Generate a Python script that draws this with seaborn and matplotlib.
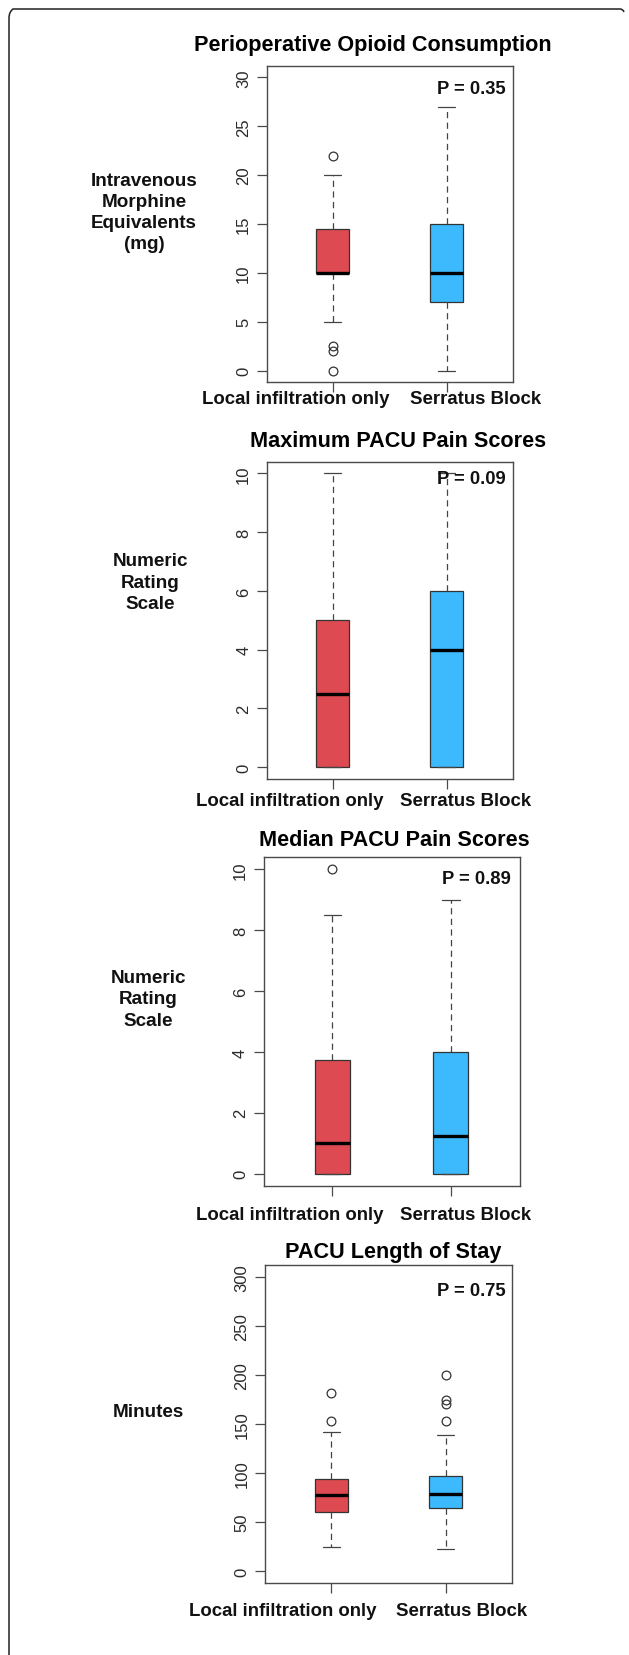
import numpy as np
import matplotlib
matplotlib.use("Agg")
import matplotlib.pyplot as plt
import seaborn as sns
from matplotlib.path import Path
from matplotlib.patches import PathPatch

# ---------------- data ----------------
groups = ["Local infiltration only", "Serratus Block"]
titles = ["Perioperative Opioid Consumption", "Maximum PACU Pain Scores",
          "Median PACU Pain Scores", "PACU Length of Stay"]
ylabels = ["Intravenous\nMorphine\nEquivalents\n(mg)", "Numeric\nRating\nScale",
           "Numeric\nRating\nScale", "Minutes"]
p_values = ["P = 0.35", "P = 0.09", "P = 0.89", "P = 0.75"]
y_max = [30, 10, 10, 300]
y_step = [5, 2, 2, 50]

# five-number summaries per panel: [whisker low, Q1, median, Q3, whisker high]
opioid_local = [5, 10, 10, 14.5, 20]
opioid_serratus = [0, 7, 10, 15, 27]
maxpain_local = [0, 0, 2.5, 5, 10]
maxpain_serratus = [0, 0, 4, 6, 10]
medpain_local = [0, 0, 1, 3.75, 8.5]
medpain_serratus = [0, 0, 1.25, 4, 9]
los_local = [25, 60, 78, 94, 142]
los_serratus = [23, 64, 79, 97, 139]

# outliers
opioid_local_out = [22, 2.5, 2, 0]
opioid_serratus_out = []
maxpain_local_out = []
maxpain_serratus_out = []
medpain_local_out = [10]
medpain_serratus_out = []
los_local_out = [182, 153]
los_serratus_out = [200, 174, 170, 153]

summaries = [(opioid_local, opioid_serratus), (maxpain_local, maxpain_serratus),
             (medpain_local, medpain_serratus), (los_local, los_serratus)]
outliers = [(opioid_local_out, opioid_serratus_out), (maxpain_local_out, maxpain_serratus_out),
            (medpain_local_out, medpain_serratus_out), (los_local_out, los_serratus_out)]

# ---------------- style ----------------
sns.set_style("white")
plt.rcParams['font.family'] = ['Liberation Sans', 'DejaVu Sans']

W, H = 629, 1656
fig = plt.figure(figsize=(W / 100, H / 100), dpi=100)

box_colors = ["#DE4A51", "#3DBAFD"]
frame_col = "#4a4a4a"

# layout in pixels (left, top, right, bottom)
axes_px = [(266.7, 66.7, 512.6, 383.3),
           (266.7, 462.7, 512.6, 780.0),
           (263.5, 858.3, 519.5, 1186.7),
           (265.0, 1266.0, 512.0, 1584.0)]
title_px = [(373, 45), (398, 441.7), (394, 840.7), (393.5, 1252.7)]
ylab_px = [(144, 213), (150, 583), (148, 1000), (148, 1413)]
p_px = [(506, 89.5), (506, 480), (511, 879.3), (506, 1291.7)]
xlab_y = [400, 801.7, 1216, 1611.7]
xlab_x = [(295.4, 476), (290, 466), (290, 466), (283, 462)]
box_w = [0.29, 0.29, 0.295, 0.29]


def fx(x):
    return x / W


def fy(y):
    return 1 - y / H


for i in range(4):
    l, t, r, b = axes_px[i]
    ax = fig.add_axes([fx(l), fy(b), (r - l) / W, (b - t) / H])
    stats = []
    for j in range(2):
        s = summaries[i][j]
        stats.append(dict(whislo=s[0], q1=s[1], med=s[2], q3=s[3], whishi=s[4],
                          fliers=np.array(outliers[i][j], dtype=float), label=groups[j]))
    bp = ax.bxp(stats, positions=[1, 2], widths=box_w[i], patch_artist=True,
                capwidths=box_w[i] * 0.5,
                boxprops=dict(edgecolor="#333333", linewidth=0.9),
                medianprops=dict(color="black", linewidth=2.4, solid_capstyle="butt"),
                whiskerprops=dict(color="#444444", linewidth=0.9, linestyle=(0, (5, 3.5))),
                capprops=dict(color="#444444", linewidth=0.9),
                flierprops=dict(marker="o", markerfacecolor="none", markeredgecolor="#333333",
                                markersize=6.3, markeredgewidth=0.9, linestyle="none"))
    for patch, c in zip(bp["boxes"], box_colors):
        patch.set_facecolor(c)

    pad = 0.04 * y_max[i]
    ax.set_ylim(-pad, y_max[i] + pad)
    ax.set_xlim(0.5 - 0.08, 2.5 + 0.08)
    ax.set_yticks(np.arange(0, y_max[i] + y_step[i] / 2, y_step[i]))
    ax.set_yticklabels([str(int(v)) for v in ax.get_yticks()], rotation=90, va="center",
                       fontsize=12, color="#2a2a2a")
    ax.set_xticks([1, 2])
    ax.set_xticklabels([])
    ax.tick_params(axis="y", direction="out", length=7.2, width=0.9, color=frame_col,
                   pad=4, left=True)
    ax.tick_params(axis="x", direction="out", length=7.2, width=0.9, color=frame_col,
                   bottom=True)
    for sp in ax.spines.values():
        sp.set_color(frame_col)
        sp.set_linewidth(1.0)
        sp.set_visible(True)
    ax.set_facecolor("white")

    # title
    fig.text(fx(title_px[i][0]), fy(title_px[i][1]), titles[i], ha="center", va="center",
             fontsize=15.6, fontweight="bold", color="black")
    # y label
    fig.text(fx(ylab_px[i][0]), fy(ylab_px[i][1]), ylabels[i], ha="center", va="center",
             fontsize=13.6, fontweight="bold", linespacing=1.32, color="#111111")
    # p value
    fig.text(fx(p_px[i][0]), fy(p_px[i][1]), p_values[i], ha="right", va="center",
             fontsize=13.2, fontweight="bold", color="#111111")
    # group labels
    for j in range(2):
        fig.text(fx(xlab_x[i][j]), fy(xlab_y[i]), groups[j], ha="center", va="center",
                 fontsize=13.4, fontweight="bold", color="#111111")

# outer border (partial rounded frame)
verts_px = [(9, H + 2), (9, 19), (9, 13), (13, 10), (19, 10), (620, 10), (623, 10), (624, 13)]
codes = [Path.MOVETO, Path.LINETO, Path.CURVE3, Path.CURVE3, Path.LINETO, Path.LINETO,
         Path.CURVE3, Path.CURVE3]
verts = [(fx(x), fy(y)) for x, y in verts_px]
fig.add_artist(PathPatch(Path(verts, codes), transform=fig.transFigure, fill=False,
                         edgecolor="#222222", linewidth=1.1))

fig.savefig("out.png", dpi=100, facecolor="white")
